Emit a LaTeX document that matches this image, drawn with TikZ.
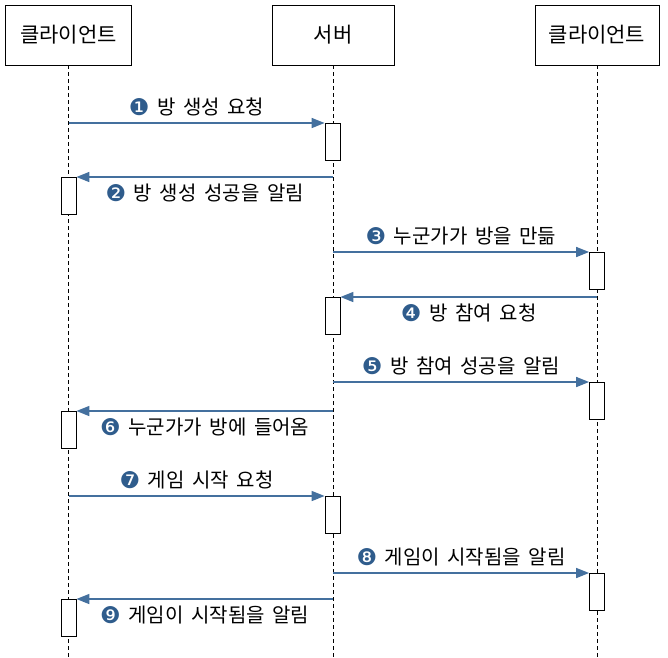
\documentclass[tikz,border=0pt]{standalone}
\usepackage{fontspec}
\newfontfamily\krfont[WordSpace=1.7]{Noto Sans CJK KR}
\newfontfamily\numfont{DejaVu Sans}
\usetikzlibrary{arrows.meta}
\definecolor{msgblue}{HTML}{44709E}
\definecolor{numblue}{HTML}{2F5C8C}
\newcommand{\num}[1]{{\numfont\fontsize{23}{24}\selectfont\color{numblue}\raisebox{-1pt}{#1}}}

\begin{document}
\begin{tikzpicture}[x=1pt,y=-1pt,
	actor/.style={draw, line width=0.8pt, minimum width=126pt, minimum height=60pt, inner sep=0pt, font=\krfont\fontsize{21}{24}\selectfont},
	lifeline/.style={line width=0.8pt, dash pattern=on 4pt off 3pt},
	act/.style={draw, line width=0.8pt, fill=white, minimum width=15pt, minimum height=37pt, inner sep=0pt, anchor=north},
	msg/.style={msgblue, line width=1.6pt, -{Triangle[length=13pt,width=10pt]}},
	lbl/.style={font=\krfont\fontsize{20}{22}\selectfont, text=black, inner sep=0pt}]
	
	\useasboundingbox (0,0) rectangle (668,657);
	
	% actors
	\node[actor] (c1) at (68.5,35) {클라이언트};
	\node[actor, minimum width=122pt] (srv) at (333,35) {서버};
	\node[actor, minimum width=124pt] (c2) at (597,35) {클라이언트};
	
	% lifelines
	\coordinate (c1b) at (68.5,657);
	\coordinate (srvb) at (333,657);
	\coordinate (c2b) at (597,657);
	\draw[lifeline] (c1) -- (c1b);
	\draw[lifeline] (srv) -- (srvb);
	\draw[lifeline] (c2) -- (c2b);
	
	% activations
	\node[act] (a1) at (332.5,123) {};
	\node[act] (a2) at (68.5,177) {};
	\node[act] (a3) at (597,252) {};
	\node[act] (a4) at (332.5,297) {};
	\node[act] (a5) at (597,382) {};
	\node[act] (a6) at (68.5,411) {};
	\node[act] (a7) at (332.5,496) {};
	\node[act] (a8) at (597,573) {};
	\node[act] (a9) at (68.5,599) {};
	
	% messages
	\draw[msg] (c1 |- a1.north) -- node[lbl, yshift=16pt] {\num{❶} 방 생성 요청} (a1.north west);
	\draw[msg] (srv |- a2.north) -- node[lbl, yshift=-16pt] {\num{❷} 방 생성 성공을 알림} (a2.north east);
	\draw[msg] (srv |- a3.north) -- node[lbl, yshift=16pt] {\num{❸} 누군가가 방을 만듦} (a3.north west);
	\draw[msg] (c2 |- a4.north) -- node[lbl, yshift=-16pt] {\num{❹} 방 참여 요청} (a4.north east);
	\draw[msg] (srv |- a5.north) -- node[lbl, yshift=16pt] {\num{❺} 방 참여 성공을 알림} (a5.north west);
	\draw[msg] (srv |- a6.north) -- node[lbl, yshift=-16pt] {\num{❻} 누군가가 방에 들어옴} (a6.north east);
	\draw[msg] (c1 |- a7.north) -- node[lbl, yshift=16pt] {\num{❼} 게임 시작 요청} (a7.north west);
	\draw[msg] (srv |- a8.north) -- node[lbl, yshift=16pt] {\num{❽} 게임이 시작됨을 알림} (a8.north west);
	\draw[msg] (srv |- a9.north) -- node[lbl, yshift=-16pt] {\num{❾} 게임이 시작됨을 알림} (a9.north east);
	
\end{tikzpicture}
\end{document}
